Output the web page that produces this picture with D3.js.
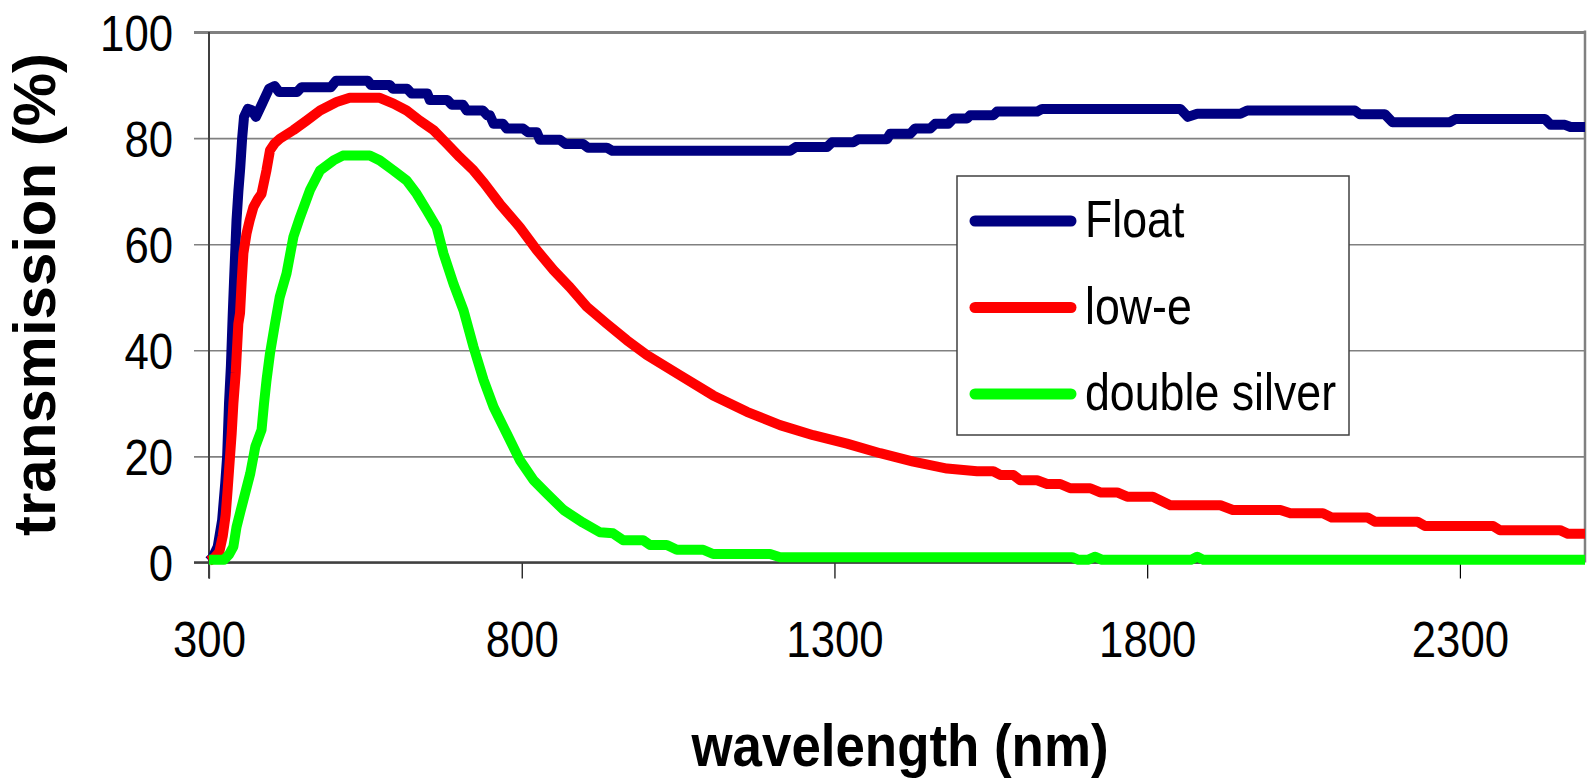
<!DOCTYPE html>
<html>
<head>
<meta charset="utf-8">
<script src="https://cdn.jsdelivr.net/npm/d3@7"></script>
<style>
  html, body { margin: 0; padding: 0; background: #fff; }
  svg { display: block; }
  text { font-family: "Liberation Sans", Arial, Helvetica, sans-serif; fill: #000; }
</style>
</head>
<body>
<svg id="chart" width="1587" height="780"></svg>
<script>
// ---------------- data ----------------
const xTicks = [300, 800, 1300, 1800, 2300];
const yTicks = [0, 20, 40, 60, 80, 100];
const seriesNames = ["Float", "low-e", "double silver"];
const seriesColors = ["#000080", "#FF0000", "#00FF00"];
const xTitle = "wavelength (nm)";
const yTitle = "transmission (%)";

const floatWl = [300,306,314,321,326,329,332,335,338,340,344,347,350,353,356,362,368,375,385,396,405,412,441,448,495,503,554,559,589,594,617,624,649,653,681,688,706,712,738,745,749,755,770,776,802,810,824,829,861,870,898,906,936,945,1229,1238,1288,1296,1330,1338,1384,1389,1421,1429,1453,1461,1482,1490,1512,1517,1554,1560,1624,1632,1853,1865,1880,1949,1960,2132,2140,2180,2192,2284,2293,2436,2445,2468,2477,2500];
const floatT  = [0.3,1,3,8,15,20,30,37,47,53,64.5,70,74.5,80,84,85.5,85.3,84,86.5,89.3,89.8,88.7,88.7,89.6,89.6,90.8,90.8,90,90,89.3,89.3,88.4,88.4,87.2,87.2,86.3,86.3,85.2,85.2,84.3,84.3,82.7,82.7,81.8,81.8,81.1,81.1,79.7,79.7,78.9,78.9,78.2,78.2,77.6,77.6,78.3,78.3,79.2,79.2,79.8,79.8,80.8,80.8,81.8,81.8,82.7,82.7,83.7,83.7,84.3,84.3,85.0,85.0,85.5,85.5,84,84.6,84.6,85.2,85.2,84.5,84.5,83,83,83.6,83.6,82.5,82.5,82.1,82.1];

const lowEWl = [300,308,316.5,322,326.7,330,333,336.3,339,342.7,346.9,349.6,352.3,355,360,365,371,378,384,392,397.5,405,413.5,435,456,477.5,504,525,573,595,616,637,659,680,701,723,740,765,797,824,851,877,904,936,968,1000,1053,1106,1160,1213,1266,1320,1373,1426,1480,1528,1554,1565,1586,1597,1624,1640,1661,1677,1709,1725,1752,1768,1809,1823,1837,1917,1937,2013,2029,2081,2095,2152,2164,2232,2244,2353,2364,2460,2473,2500];
const lowET  = [0.3,0.8,2,5,9,14,19,24.4,30,35.7,45,47,53,58.3,62,64.5,67,68.5,69.5,74,77.7,79,79.9,81.5,83.3,85.2,86.8,87.6,87.6,86.5,85.2,83.3,81.5,79,76.4,73.9,71.5,67.6,63.2,58.9,55.1,51.9,48.2,45,41.9,39.1,35.3,31.5,28.4,25.9,24,22.4,20.6,19,17.7,17.2,17.2,16.5,16.5,15.5,15.5,14.8,14.8,14,14,13.2,13.2,12.4,12.4,11.6,10.8,10.8,9.9,9.9,9.3,9.3,8.5,8.5,7.7,7.7,6.9,6.9,6.1,6.1,5.4,5.4];

const silverWl = [300,324,332,339,344,350,355,366,374,384,388,392,397.5,405.5,413,424,435,445.5,461.5,477.5,499,514,557,573,595,616,632,648,664,675,691,707,723,739,755,776,797,819,840,867,898,925,946,962,994,1005,1032,1048,1090,1106,1197,1213,1680,1690,1705,1717,1728,1870,1880,1890,2500];
const silverT  = [0.5,0.5,1.5,3,6.7,9.5,11.8,16.8,21.8,25,30,34.4,39.4,45,50,54.5,61.4,65.1,70.2,73.9,75.8,76.7,76.7,75.8,73.9,72,69.5,66.4,63.2,58.2,52.5,47.5,40.6,34.4,29.3,24.3,19.3,15.5,13,9.9,7.5,5.7,5.5,4.2,4.2,3.3,3.3,2.4,2.4,1.6,1.6,1.0,1.0,0.5,0.5,1.1,0.5,0.5,1.1,0.5,0.5];

const seriesWl = [floatWl, lowEWl, silverWl];
const seriesT  = [floatT, lowET, silverT];

// ---------------- layout ----------------
const svg = d3.select("#chart");
const L = 209, R = 1585, T = 32, B = 562.5;

const x = d3.scaleLinear().domain([300, 2500]).range([L, R]);
const y = d3.scaleLinear().domain([0, 100]).range([B, T]);

function squeeze(sel, f) {
  sel.each(function () {
    const w = this.getComputedTextLength();
    this.setAttribute("textLength", (w * f).toFixed(1));
    this.setAttribute("lengthAdjust", "spacingAndGlyphs");
  });
}

svg.append("rect").attr("width", 1587).attr("height", 780).attr("fill", "#fff");

// y axis with gridlines
const yAxis = svg.append("g")
  .attr("transform", `translate(${L},0)`)
  .call(d3.axisLeft(y).tickValues(yTicks).tickSizeInner(-(R - L)).tickSizeOuter(0).tickPadding(36).tickFormat(d3.format("d")));
yAxis.select(".domain").remove();
yAxis.selectAll(".tick line")
  .attr("x1", -15)
  .attr("stroke", "#808080")
  .attr("stroke-width", d => d === 100 ? 3 : 1.6);
yAxis.selectAll(".tick text")
  .attr("font-size", 50)
  .attr("dy", "0.36em")
  .call(squeeze, 0.874);

// right border
svg.append("line")
  .attr("x1", R).attr("x2", R).attr("y1", T - 1.5).attr("y2", B)
  .attr("stroke", "#808080").attr("stroke-width", 2.5);

// x axis
const xAxis = svg.append("g")
  .attr("transform", `translate(0,${B})`)
  .call(d3.axisBottom(x).tickValues(xTicks).tickSizeInner(16).tickSizeOuter(0).tickFormat(d3.format("d")));
xAxis.select(".domain").remove();
xAxis.selectAll(".tick line").attr("stroke", "#000").attr("stroke-width", 1.2);
xAxis.selectAll(".tick text")
  .attr("font-size", 50)
  .attr("y", 94)
  .attr("dy", 0)
  .call(squeeze, 0.874);

// axis lines
svg.append("line")
  .attr("x1", L).attr("x2", L).attr("y1", T).attr("y2", B + 16)
  .attr("stroke", "#404040").attr("stroke-width", 2);
svg.append("line")
  .attr("x1", 194).attr("x2", R).attr("y1", B).attr("y2", B)
  .attr("stroke", "#404040").attr("stroke-width", 2.5);

// data lines
const line = d3.line().x(d => x(d[0])).y(d => y(d[1])).curve(d3.curveLinear);
const plot = svg.append("g");
[0, 1, 2].forEach(i => {
  const pts = seriesWl[i].map((w, k) => [w, seriesT[i][k]]);
  plot.append("path")
    .datum(pts)
    .attr("d", line)
    .attr("fill", "none")
    .attr("stroke", seriesColors[i])
    .attr("stroke-width", 10)
    .attr("stroke-linejoin", "round")
    .attr("stroke-linecap", "butt");
});

// legend
const lg = svg.append("g");
lg.append("rect")
  .attr("x", 957).attr("y", 176).attr("width", 392).attr("height", 259)
  .attr("fill", "#fff").attr("stroke", "#404040").attr("stroke-width", 1.5);
const legendBase = [237, 323.5, 410];
seriesNames.forEach((name, i) => {
  lg.append("line")
    .attr("x1", 975).attr("x2", 1071)
    .attr("y1", legendBase[i] - 16).attr("y2", legendBase[i] - 16)
    .attr("stroke", seriesColors[i]).attr("stroke-width", 11).attr("stroke-linecap", "round");
  lg.append("text")
    .attr("x", 1085).attr("y", legendBase[i])
    .attr("font-size", 52)
    .text(name)
    .call(squeeze, 0.86);
});

// axis titles
svg.append("text")
  .attr("x", 900).attr("y", 766)
  .attr("text-anchor", "middle")
  .attr("font-size", 60).attr("font-weight", "bold")
  .attr("textLength", 417).attr("lengthAdjust", "spacingAndGlyphs")
  .text(xTitle);
svg.append("text")
  .attr("transform", "translate(55,294.5) rotate(-90)")
  .attr("text-anchor", "middle")
  .attr("font-size", 60).attr("font-weight", "bold")
  .attr("textLength", 483).attr("lengthAdjust", "spacingAndGlyphs")
  .text(yTitle);
</script>
</body>
</html>
